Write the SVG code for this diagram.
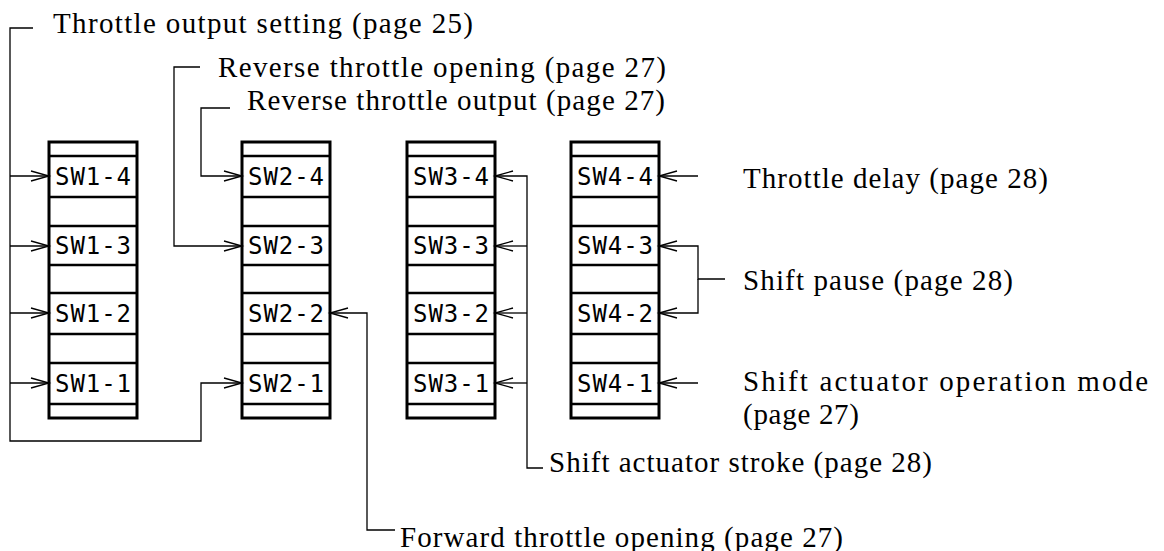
<svg xmlns="http://www.w3.org/2000/svg" width="1164" height="551" viewBox="0 0 1164 551">
<style>
.blk{fill:#fff;stroke:#000;stroke-width:3}
.div{stroke:#000;stroke-width:2.5}
.sw{font-family:"DejaVu Sans Mono","Liberation Mono",monospace;font-size:24px;fill:#000}
.t{font-family:"Liberation Serif","Times New Roman",serif;font-size:29px;fill:#000}
.c{fill:none;stroke:#000;stroke-width:1.3}
.a{marker-end:url(#arr)}
</style>
<defs>
<marker id="arr" markerUnits="userSpaceOnUse" markerWidth="22" markerHeight="14" refX="18" refY="6" orient="auto" overflow="visible">
<path d="M0,1 L18,6 L0,11" fill="none" stroke="#000" stroke-width="1.3"/>
</marker>
<g id="cells">
<line class="div" x1="0" y1="156" x2="88" y2="156"/>
<line class="div" x1="0" y1="197" x2="88" y2="197"/>
<line class="div" x1="0" y1="226" x2="88" y2="226"/>
<line class="div" x1="0" y1="265" x2="88" y2="265"/>
<line class="div" x1="0" y1="293" x2="88" y2="293"/>
<line class="div" x1="0" y1="334" x2="88" y2="334"/>
<line class="div" x1="0" y1="363" x2="88" y2="363"/>
<line class="div" x1="0" y1="404" x2="88" y2="404"/>
</g>
</defs>
<g id="block1">
<rect class="blk" x="49" y="142" width="88" height="276"/>
<use href="#cells" x="49"/>
<text class="sw" x="55" y="185" textLength="76">SW1-4</text>
<text class="sw" x="55" y="254" textLength="76">SW1-3</text>
<text class="sw" x="55" y="322" textLength="76">SW1-2</text>
<text class="sw" x="55" y="392" textLength="76">SW1-1</text>
</g>
<g id="block2">
<rect class="blk" x="242" y="142" width="88" height="276"/>
<use href="#cells" x="242"/>
<text class="sw" x="248" y="185" textLength="76">SW2-4</text>
<text class="sw" x="248" y="254" textLength="76">SW2-3</text>
<text class="sw" x="248" y="322" textLength="76">SW2-2</text>
<text class="sw" x="248" y="392" textLength="76">SW2-1</text>
</g>
<g id="block3">
<rect class="blk" x="407" y="142" width="88" height="276"/>
<use href="#cells" x="407"/>
<text class="sw" x="413" y="185" textLength="76">SW3-4</text>
<text class="sw" x="413" y="254" textLength="76">SW3-3</text>
<text class="sw" x="413" y="322" textLength="76">SW3-2</text>
<text class="sw" x="413" y="392" textLength="76">SW3-1</text>
</g>
<g id="block4">
<rect class="blk" x="571" y="142" width="88" height="276"/>
<use href="#cells" x="571"/>
<text class="sw" x="577" y="185" textLength="76">SW4-4</text>
<text class="sw" x="577" y="254" textLength="76">SW4-3</text>
<text class="sw" x="577" y="322" textLength="76">SW4-2</text>
<text class="sw" x="577" y="392" textLength="76">SW4-1</text>
</g>
<g id="connectors">
<path class="c a" d="M33,28 H10 V441 H201 V383 H242"/>
<path class="c a" d="M10,176 H49"/>
<path class="c a" d="M10,246 H49"/>
<path class="c a" d="M10,313 H49"/>
<path class="c a" d="M10,383 H49"/>
<path class="c a" d="M200,67 H174 V246 H242"/>
<path class="c a" d="M230,108 H201 V176 H242"/>
<path class="c a" d="M395,530 H367 V313 H330"/>
<path class="c a" d="M543,468 H527 V176 H495"/>
<path class="c a" d="M527,246 H495"/>
<path class="c a" d="M527,313 H495"/>
<path class="c a" d="M527,383 H495"/>
<path class="c a" d="M698,176 H659"/>
<path class="c a" d="M725,279 H698 V246 H659"/>
<path class="c a" d="M698,279 V313 H659"/>
<path class="c a" d="M698,383 H659"/>
</g>
<g id="labels">
<text class="t" x="53" y="33" textLength="420">Throttle output setting (page 25)</text>
<text class="t" x="218" y="77" textLength="448">Reverse throttle opening (page 27)</text>
<text class="t" x="247" y="110" textLength="418">Reverse throttle output (page 27)</text>
<text class="t" x="743" y="188" textLength="305">Throttle delay (page 28)</text>
<text class="t" x="743" y="290" textLength="270">Shift pause (page 28)</text>
<text class="t" x="743" y="391" textLength="405">Shift actuator operation mode</text>
<text class="t" x="743" y="424" textLength="116">(page 27)</text>
<text class="t" x="549" y="472" textLength="383">Shift actuator stroke (page 28)</text>
<text class="t" x="400" y="547" textLength="443">Forward throttle opening (page 27)</text>
</g>
</svg>
